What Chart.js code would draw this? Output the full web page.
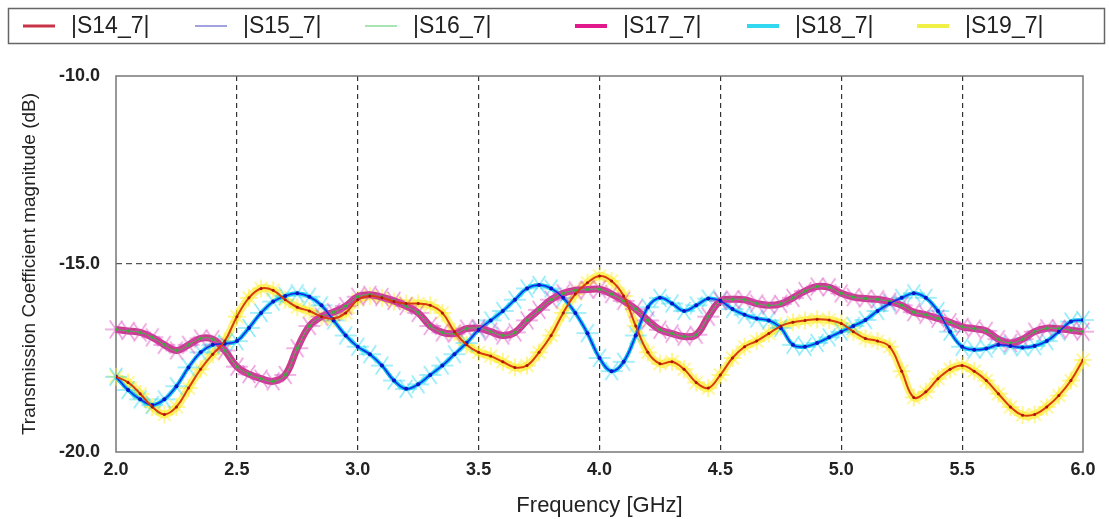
<!DOCTYPE html>
<html>
<head>
<meta charset="utf-8">
<script src="https://cdn.jsdelivr.net/npm/chart.js@4"></script>
<style>
  html, body { margin: 0; padding: 0; background: #fff; }
  #wrap { width: 1109px; height: 519px; position: relative; }
</style>
</head>
<body>
<div id="wrap"><canvas id="chart"></canvas></div>
<script>
// frequency points (GHz)
const freq = [
  2.00, 2.05, 2.10, 2.15, 2.20, 2.25, 2.30, 2.35, 2.40, 2.45,
  2.50, 2.55, 2.60, 2.65, 2.70, 2.75, 2.80, 2.85, 2.90, 2.95,
  3.00, 3.05, 3.10, 3.15, 3.20, 3.25, 3.30, 3.35, 3.40, 3.45,
  3.50, 3.55, 3.60, 3.65, 3.70, 3.75, 3.80, 3.85, 3.90, 3.95,
  4.00, 4.05, 4.10, 4.15, 4.20, 4.25, 4.30, 4.35, 4.40, 4.45,
  4.50, 4.55, 4.60, 4.65, 4.70, 4.75, 4.80, 4.85, 4.90, 4.95,
  5.00, 5.05, 5.10, 5.15, 5.20, 5.25, 5.30, 5.35, 5.40, 5.45,
  5.50, 5.55, 5.60, 5.65, 5.70, 5.75, 5.80, 5.85, 5.90, 5.95,
  6.00
];

// |S14_7| (dB)
const s14 = [
  -18.00, -18.15, -18.45, -18.80, -19.00, -18.80, -18.30, -17.80, -17.40, -17.05,
  -16.40, -15.90, -15.65, -15.70, -15.95, -16.15, -16.25, -16.40, -16.45, -16.30,
  -15.95, -15.85, -15.90, -16.00, -16.05, -16.05, -16.10, -16.30, -16.80, -17.15,
  -17.35, -17.45, -17.60, -17.75, -17.70, -17.35, -16.90, -16.30, -15.80, -15.50,
  -15.32, -15.45, -15.85, -16.65, -17.35, -17.65, -17.60, -17.80, -18.15, -18.30,
  -17.95, -17.50, -17.20, -17.05, -16.85, -16.65, -16.55, -16.50, -16.47, -16.49,
  -16.58, -16.80, -16.98, -17.05, -17.20, -17.85, -18.55, -18.40, -18.05, -17.80,
  -17.70, -17.85, -18.10, -18.45, -18.80, -19.02, -19.00, -18.80, -18.50, -18.10,
  -17.55
];

// |S15_7| (dB)
const s15 = [
  -18.00, -18.35, -18.60, -18.75, -18.60, -18.25, -17.75, -17.35, -17.15, -17.12,
  -17.05, -16.70, -16.30, -16.00, -15.85, -15.78, -15.87, -16.10, -16.50, -16.90,
  -17.20, -17.40, -17.70, -18.10, -18.32, -18.20, -17.95, -17.70, -17.40, -17.10,
  -16.75, -16.50, -16.25, -15.95, -15.65, -15.56, -15.65, -15.90, -16.30, -16.84,
  -17.50, -17.85, -17.60, -16.90, -16.15, -15.90, -16.05, -16.25, -16.10, -15.92,
  -15.98, -16.20, -16.35, -16.45, -16.50, -16.70, -17.15, -17.20, -17.10, -16.95,
  -16.80, -16.65, -16.49, -16.25, -16.05, -15.90, -15.78, -15.90, -16.25, -16.80,
  -17.20, -17.28, -17.25, -17.15, -17.18, -17.22, -17.18, -17.05, -16.80, -16.53,
  -16.49
];

// |S16_7| (dB)
const s16 = [
  -16.74, -16.78, -16.82, -16.95, -17.15, -17.30, -17.15, -16.98, -17.00, -17.30,
  -17.73, -17.93, -18.05, -18.12, -17.95, -17.24, -16.65, -16.40, -16.28, -16.12,
  -15.87, -15.82, -15.88, -15.98, -16.12, -16.30, -16.65, -16.82, -16.85, -16.72,
  -16.71, -16.80, -16.90, -16.82, -16.50, -16.22, -15.95, -15.78, -15.70, -15.68,
  -15.67, -15.80, -15.98, -16.20, -16.50, -16.75, -16.85, -16.93, -16.88, -16.40,
  -15.98, -15.94, -15.95, -16.05, -16.10, -16.06, -15.90, -15.72, -15.60, -15.62,
  -15.78, -15.88, -15.92, -15.94, -16.00, -16.10, -16.28, -16.35, -16.45, -16.55,
  -16.67, -16.72, -16.78, -17.00, -17.10, -17.00, -16.80, -16.71, -16.72, -16.76,
  -16.80
];

// the other three ports lie on top of these in the plot
const s17 = s16;
const s18 = s15;
const s19 = s14;

const seriesNames = ['|S14_7|', '|S15_7|', '|S16_7|', '|S17_7|', '|S18_7|', '|S19_7|'];
const xTicks = [2.0, 2.5, 3.0, 3.5, 4.0, 4.5, 5.0, 5.5, 6.0];
const yTicks = [-20.0, -15.0, -10.0];

const FONT = '"Liberation Sans", Arial, sans-serif';

// asterisk marker drawn on a small canvas
function makeStar(size, color, lw, angles) {
  const c = document.createElement('canvas');
  c.width = size; c.height = size;
  const g = c.getContext('2d');
  g.strokeStyle = color;
  g.lineWidth = lw;
  const r = size / 2 - 1;
  angles.forEach(a => {
    const rad = a * Math.PI / 180;
    g.beginPath();
    g.moveTo(size / 2 - Math.cos(rad) * r, size / 2 - Math.sin(rad) * r);
    g.lineTo(size / 2 + Math.cos(rad) * r, size / 2 + Math.sin(rad) * r);
    g.stroke();
  });
  return c;
}

const cyanStar = makeStar(24, 'rgba(40,215,240,0.55)', 1.5, [0, 55, 125]);
const pinkStar = makeStar(24, 'rgba(220,70,190,0.55)', 1.5, [0, 55, 125]);
const yellowStar = makeStar(20, 'rgba(255,238,40,0.5)', 2, [0, 45, 90, 135]);

const toPts = arr => arr.map((v, i) => ({x: freq[i], y: v}));

const legendStyle = [
  {color: 'rgb(200,50,70)', width: 3},
  {color: 'rgb(100,100,200)', width: 1.2},
  {color: 'rgb(110,210,130)', width: 1.2},
  {color: 'rgb(225,25,140)', width: 4},
  {color: 'rgb(50,215,240)', width: 4},
  {color: 'rgb(240,240,70)', width: 4}
];

// boxed legend across the top
const boxLegend = {
  id: 'boxLegend',
  afterDraw(chart) {
    const ctx = chart.ctx;
    ctx.save();
    ctx.strokeStyle = '#666';
    ctx.lineWidth = 1.5;
    ctx.strokeRect(8.5, 8.5, 1096, 35);
    const starts = [23, 195, 365, 575, 747, 917];
    ctx.font = '23px ' + FONT;
    ctx.textBaseline = 'middle';
    ctx.fillStyle = '#222';
    seriesNames.forEach((name, i) => {
      ctx.strokeStyle = legendStyle[i].color;
      ctx.lineWidth = legendStyle[i].width;
      ctx.beginPath();
      ctx.moveTo(starts[i], 26);
      ctx.lineTo(starts[i] + 32, 26);
      ctx.stroke();
      ctx.fillText(name, starts[i] + 48, 27);
    });
    ctx.restore();
  }
};

// solid frame around the plot area
const frame = {
  id: 'frame',
  beforeDatasetsDraw(chart) {
    const {ctx, chartArea: a} = chart;
    ctx.save();
    ctx.strokeStyle = '#777';
    ctx.lineWidth = 1.5;
    ctx.strokeRect(a.left, a.top, a.right - a.left, a.bottom - a.top);
    ctx.restore();
  }
};

const datasets = [
  {
    label: seriesNames[0], data: toPts(s14),
    borderColor: 'rgb(215,60,10)', borderWidth: 2,
    pointRadius: 1.5, pointBackgroundColor: 'rgb(170,20,20)', pointBorderWidth: 0
  },
  {
    label: seriesNames[1], data: toPts(s15),
    borderColor: 'rgb(20,40,230)', borderWidth: 1.5,
    pointRadius: 2, pointBackgroundColor: 'rgb(10,20,200)', pointBorderWidth: 0
  },
  {
    label: seriesNames[2], data: toPts(s16),
    borderColor: 'rgb(80,180,80)', borderWidth: 1,
    pointRadius: 1.8, pointBackgroundColor: 'rgb(60,170,60)', pointBorderWidth: 0
  },
  {
    label: seriesNames[3], data: toPts(s17),
    borderColor: 'rgb(200,60,140)', borderWidth: 7,
    pointStyle: pinkStar, pointRadius: 12, clip: false
  },
  {
    label: seriesNames[4], data: toPts(s18),
    borderColor: 'rgb(0,190,240)', borderWidth: 4,
    pointStyle: cyanStar, pointRadius: 12, clip: false
  },
  {
    label: seriesNames[5], data: toPts(s19),
    borderColor: 'rgba(255,235,30,0.6)', borderWidth: 8,
    pointStyle: yellowStar, pointRadius: 10, clip: false
  }
];
datasets.forEach(d => { d.tension = 0.4; d.fill = false; });

new Chart(document.getElementById('chart'), {
  type: 'line',
  data: {datasets},
  plugins: [boxLegend, frame],
  options: {
    responsive: true,
    maintainAspectRatio: false,
    animation: false,
    events: [],
    layout: {padding: {top: 76, right: 26, left: 0, bottom: 0}},
    plugins: {
      legend: {display: false},
      tooltip: {enabled: false}
    },
    scales: {
      x: {
        type: 'linear',
        min: 2, max: 6,
        afterBuildTicks: s => { s.ticks = xTicks.map(v => ({value: v})); },
        afterFit: s => { s.height = 519 - 452; },
        border: {display: false, dash: [5, 4]},
        grid: {
          drawTicks: false,
          lineWidth: 1.2,
          color: c => (c.tick && (c.tick.value === 2 || c.tick.value === 6)) ? 'rgba(0,0,0,0)' : '#333'
        },
        ticks: {
          padding: 7,
          color: '#222',
          font: {family: FONT, size: 18, weight: 'bold'},
          callback: v => Number(v).toFixed(1)
        },
        title: {
          display: true,
          text: 'Frequency [GHz]',
          color: '#222',
          font: {family: FONT, size: 22},
          padding: {top: 8, bottom: 0}
        }
      },
      y: {
        min: -20, max: -10,
        afterBuildTicks: s => { s.ticks = yTicks.map(v => ({value: v})); },
        afterFit: s => { s.width = 116; },
        border: {display: false, dash: [6, 4]},
        grid: {
          drawTicks: false,
          lineWidth: 1.2,
          color: c => (c.tick && c.tick.value === -15) ? '#555' : 'rgba(0,0,0,0)'
        },
        ticks: {
          padding: 16,
          color: '#222',
          font: {family: FONT, size: 18, weight: 'bold'},
          callback: v => Number(v).toFixed(1)
        },
        title: {
          display: true,
          text: 'Transmission Coefficient magnitude (dB)',
          color: '#222',
          font: {family: FONT, size: 19},
          padding: {top: 18, bottom: 4}
        }
      }
    }
  }
});
</script>
</body>
</html>
